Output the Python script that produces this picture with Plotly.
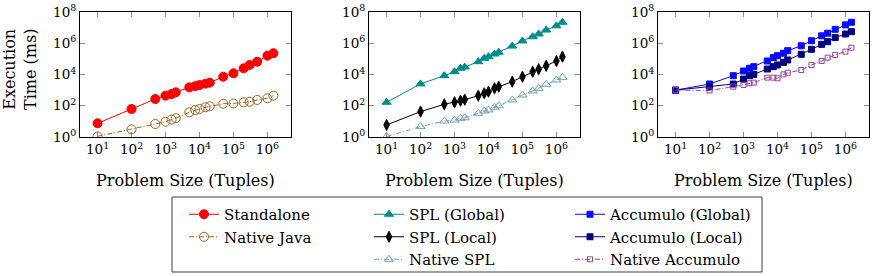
import plotly.graph_objects as go

W, H = 872, 276

x_sizes = [10, 100, 500, 1000, 1500, 2000, 5000, 7500, 10000, 15000, 20000,
           50000, 100000, 200000, 300000, 500000, 1000000, 1500000]

standalone = [7.5, 62, 270, 440, 560, 720, 1500, 1800, 2100, 2600, 3000,
              7200, 12000, 25000, 41000, 66000, 160000, 230000]
native_java = [1.1, 3.1, 6.8, 9.5, 13, 16, 38, 53, 62, 80, 92,
               135, 140, 165, 180, 235, 300, 440]

spl_global = [166, 2500, 8400, 15000, 25000, 30000, 66000, 108000, 138000, 205000, 265000,
              660000, 1.4e6, 2.6e6, 3.9e6, 7e6, 1.3e7, 2.2e7]
spl_local = [5.9, 42, 124, 166, 212, 245, 440, 630, 790, 1300, 1660,
             3470, 7200, 15000, 22000, 36000, 73000, 138000]
native_spl = [1.05, 4.6, 10.5, 12, 16, 17, 33, 46, 54, 80, 100,
              235, 490, 880, 1300, 2360, 4470, 6600]

acc_global = [1000, 2460, 8400, 16700, 25000, 31600, 73000, 120000, 160000, 230000, 335000,
              690000, 1.45e6, 3e6, 4.4e6, 7.8e6, 1.5e7, 2.2e7]
acc_local = [1000, 1660, 2460, 5100, 8400, 10200, 22400, 31600, 41000, 60000, 85000,
             196000, 410000, 850000, 1.26e6, 2.3e6, 3.9e6, 5.5e6]
native_acc = [1000, 950, 1660, 2130, 2740, 3000, 6300, 6300, 5700, 10200, 13000,
              19500, 41000, 73000, 120000, 178000, 290000, 520000]

x_tick_vals = [1e1, 1e2, 1e3, 1e4, 1e5, 1e6]
x_tick_text = ["10<sup>1</sup>", "10<sup>2</sup>", "10<sup>3</sup>",
               "10<sup>4</sup>", "10<sup>5</sup>", "10<sup>6</sup>"]
y_tick_vals = [1e0, 1e2, 1e4, 1e6, 1e8]
y_tick_text = ["10<sup>0</sup>", "10<sup>2</sup>", "10<sup>4</sup>",
               "10<sup>6</sup>", "10<sup>8</sup>"]

x_title = "Problem Size (Tuples)"
y_title = "Execution<br>Time (ms)"

FONT = "DejaVu Serif"
TICK_FS = 13.5
TITLE_FS = 16
LEG_FS = 15

DASHDOT = "5px,2px,1px,2px"

series = [
    # (panel, legend, name, values, color, symbol, size, dash)
    (1, "legend", "Standalone", standalone, "#ff0000", "circle", 9, "solid"),
    (1, "legend", "Native Java", native_java, "#a0621f", "circle-open", 9, DASHDOT),
    (2, "legend2", "SPL (Global)", spl_global, "#008b8b", "triangle-up", 8, "solid"),
    (2, "legend2", "SPL (Local)", spl_local, "#000000", "diamond-tall", 8, "solid"),
    (2, "legend2", "Native SPL", native_spl, "#6a9fb5", "triangle-up-open", 8, DASHDOT),
    (3, "legend3", "Accumulo (Global)", acc_global, "#0a0aff", "square", 6, "solid"),
    (3, "legend3", "Accumulo (Local)", acc_local, "#00007f", "square", 6, "solid"),
    (3, "legend3", "Native Accumulo", native_acc, "#a03ca0", "square-open", 5, DASHDOT),
]

fig = go.Figure()
for panel, leg, name, vals, color, sym, size, dash in series:
    xa = "x" if panel == 1 else f"x{panel}"
    ya = "y" if panel == 1 else f"y{panel}"
    fig.add_trace(go.Scatter(
        x=x_sizes, y=vals, name=name, mode="lines+markers",
        xaxis=xa, yaxis=ya, legend=leg,
        line=dict(color=color, width=1, dash=dash),
        marker=dict(color=color, symbol=sym, size=size,
                    line=dict(color=color, width=1)),
    ))

px_domains = [(80, 291), (369, 580), (658, 869)]
y_dom = (1 - 137 / H, 1 - 12 / H)

axis_common = dict(
    type="log", showgrid=False, zeroline=False,
    showline=True, linecolor="#000000", linewidth=1, mirror="allticks",
    ticks="inside", ticklen=5, tickcolor="#8c8c8c", tickwidth=1,
    tickfont=dict(family=FONT, size=TICK_FS, color="#000000"),
)

layout = dict(
    width=W, height=H, margin=dict(l=0, r=0, t=0, b=0, autoexpand=False),
    paper_bgcolor="white", plot_bgcolor="white",
    font=dict(family=FONT, size=TITLE_FS, color="#000000"),
    annotations=[], shapes=[],
)

for i, (a, b) in enumerate(px_domains, start=1):
    xk = "xaxis" if i == 1 else f"xaxis{i}"
    yk = "yaxis" if i == 1 else f"yaxis{i}"
    layout[xk] = dict(axis_common, domain=[a / W, b / W], range=[0.482, 6.694],
                      tickvals=x_tick_vals, ticktext=x_tick_text,
                      anchor="y" if i == 1 else f"y{i}")
    layout[yk] = dict(axis_common, domain=list(y_dom), range=[-0.0005, 8.0005],
                      tickvals=y_tick_vals, ticktext=y_tick_text,
                      anchor="x" if i == 1 else f"x{i}")
    layout["annotations"].append(dict(
        text=x_title, xref="paper", yref="paper", x=(a + b) / 2 / W,
        y=1 - 180 / H, xanchor="center", yanchor="middle", showarrow=False,
        font=dict(family=FONT, size=TITLE_FS)))

layout["annotations"].append(dict(
    text=y_title, xref="paper", yref="paper", x=20 / W, y=1 - 70 / H,
    xanchor="center", yanchor="middle", showarrow=False, textangle=-90,
    font=dict(family=FONT, size=TITLE_FS)))

leg_common = dict(orientation="v", yanchor="top", xanchor="left",
                  bgcolor="rgba(0,0,0,0)", borderwidth=0,
                  font=dict(family=FONT, size=LEG_FS), tracegroupgap=0)
layout["legend"] = dict(leg_common, x=184 / W, y=1 - 198 / H)
layout["legend2"] = dict(leg_common, x=369 / W, y=1 - 198 / H)
layout["legend3"] = dict(leg_common, x=570 / W, y=1 - 198 / H)

layout["shapes"].append(dict(type="rect", xref="paper", yref="paper",
                             x0=172 / W, x1=762 / W, y0=1 - 272 / H, y1=1 - 197 / H,
                             line=dict(color="#404040", width=1)))

fig.update_layout(**layout)
fig.write_html("out.html")
